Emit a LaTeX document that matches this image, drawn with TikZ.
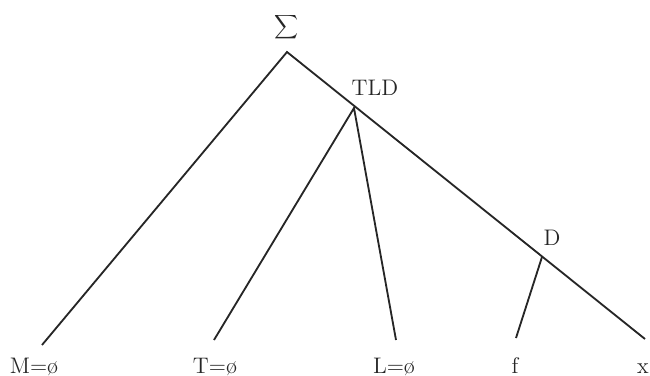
\documentclass[tikz,border=0pt]{standalone}
\usepackage{amsmath,amssymb}
\usepackage{tikz}
\usetikzlibrary{positioning,calc}

\begin{document}
\begin{tikzpicture}[
    x=0.6pt, y=-0.6pt,
    branch/.style={line width=1.1pt, black!85},
    lab/.style={inner sep=0pt, font=\fontsize{13.5}{15}\selectfont, text=black!85},
    leaf/.style={lab, anchor=base}
]
\useasboundingbox (0,0) rectangle (650,376);
% junctions
\coordinate (root) at (287,52);
\coordinate (tld) at (354,108);
\coordinate (d) at (542,257);
% ends of the branches
\coordinate (mend) at (42,345);
\coordinate (tend) at (214,340);
\coordinate (lend) at (396,340);
\coordinate (fend) at (516,338);
\coordinate (xend) at (645,339);
% labels
\node[lab, font=\normalsize] (sigma) at (287,27) {$\displaystyle\sum$};
\node[leaf] (tldlab) at (375,95) {TLD};
\node[leaf] (dlab) at (552,245) {D};
\node[leaf] (m) at (34,373) {M=\o};
\node[leaf] (t) at (215,373) {T=\o};
\node[leaf] (l) at (394,373) {L=\o};
\node[leaf] (f) at (515,373) {f};
\node[leaf] (x) at (643,373) {x};
% tree
\draw[branch] (mend) -- (root) -- (xend);
\draw[branch] (tend) -- (tld) -- (lend);
\draw[branch] (d) -- (fend);
\end{tikzpicture}
\end{document}
